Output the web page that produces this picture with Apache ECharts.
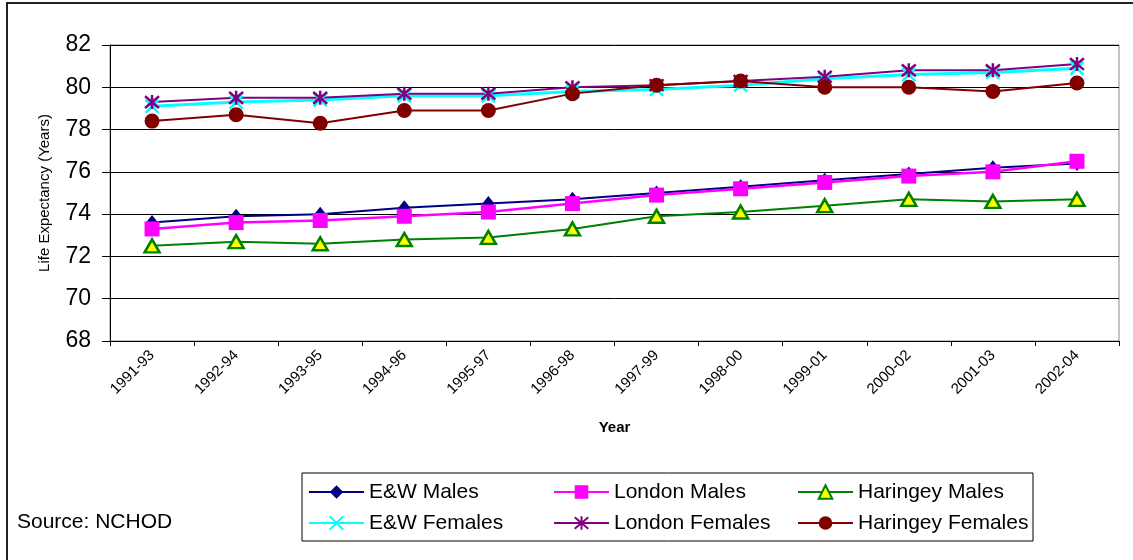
<!DOCTYPE html>
<html>
<head>
<meta charset="utf-8">
<script src="https://cdn.jsdelivr.net/npm/echarts@6/dist/echarts.min.js"></script>
<style>
  html, body { margin: 0; padding: 0; background: #fff; }
  #chart-container { width: 1133px; height: 560px; }
</style>
</head>
<body>
<div id="chart-container"></div>
<script>
const periods = ['1991-93', '1992-94', '1993-95', '1994-96', '1995-97', '1996-98',
                 '1997-99', '1998-00', '1999-01', '2000-02', '2001-03', '2002-04'];

const ewMales         = [73.6, 73.9, 74.0, 74.3, 74.5, 74.7, 75.0, 75.3, 75.6, 75.9, 76.2, 76.4];
const londonMales     = [73.3, 73.6, 73.7, 73.9, 74.1, 74.5, 74.9, 75.2, 75.5, 75.8, 76.0, 76.5];
const haringeyMales   = [72.5, 72.7, 72.6, 72.8, 72.9, 73.3, 73.9, 74.1, 74.4, 74.7, 74.6, 74.7];
const ewFemales       = [79.1, 79.3, 79.4, 79.6, 79.6, 79.8, 79.9, 80.1, 80.4, 80.6, 80.7, 80.9];
const londonFemales   = [79.3, 79.5, 79.5, 79.7, 79.7, 80.0, 80.1, 80.3, 80.5, 80.8, 80.8, 81.1];
const haringeyFemales = [78.4, 78.7, 78.3, 78.9, 78.9, 79.7, 80.1, 80.3, 80.0, 80.0, 79.8, 80.2];

const font = "'Liberation Sans', Arial, sans-serif";

// stroke-only markers (Excel style x and asterisk)
const crossPath = 'path://M0,0L10,10M10,0L0,10';
const starPath = 'path://M0,0L10,10M10,0L0,10M5,-1L5,11';

function lineSeries(name, data, color, symbol, size, extra) {
    const s = {
        name: name,
        type: 'line',
        data: data,
        symbol: symbol,
        symbolSize: size,
        lineStyle: { color: color, width: 2 },
        itemStyle: { color: color },
        emphasis: { disabled: true },
        animation: false
    };
    return Object.assign(s, extra || {});
}

const chart = echarts.init(document.getElementById('chart-container'));

const legendBase = {
    orient: 'vertical',
    top: 480,
    padding: 0,
    itemWidth: 55,
    itemHeight: 17,
    itemGap: 7,
    selectedMode: false,
    textStyle: { fontFamily: font, fontSize: 21, color: '#000', lineHeight: 24 }
};

const option = {
    backgroundColor: '#fff',
    textStyle: { fontFamily: font },
    grid: {
        left: 110, right: 14, top: 45, bottom: 219,
        containLabel: false,
        outerBoundsMode: 'none',
        show: true,
        borderColor: '#888',
        borderWidth: 1
    },
    legend: [
        Object.assign({ left: 308, data: ['E&W Males', 'E&W Females'] }, legendBase),
        Object.assign({ left: 553, data: ['London Males', 'London Females'] }, legendBase),
        Object.assign({ left: 797, data: ['Haringey Males', 'Haringey Females'] }, legendBase)
    ],
    xAxis: {
        type: 'category',
        data: periods,
        boundaryGap: true,
        name: 'Year',
        nameLocation: 'middle',
        nameGap: 79,
        nameTextStyle: { fontFamily: font, fontSize: 15, fontWeight: 'bold', color: '#000' },
        axisLine: { show: true, lineStyle: { color: '#000', width: 1 } },
        axisTick: { show: true, inside: false, length: 5, lineStyle: { color: '#000' } },
        axisLabel: { rotate: 45, margin: 12, fontFamily: font, fontSize: 15, color: '#000' },
        splitLine: { show: false }
    },
    yAxis: {
        type: 'value',
        min: 68,
        max: 82,
        interval: 2,
        name: 'Life Expectancy (Years)',
        nameLocation: 'middle',
        nameRotate: 90,
        nameGap: 58,
        nameTextStyle: { fontFamily: font, fontSize: 15, color: '#000' },
        axisLine: { show: true, lineStyle: { color: '#000', width: 1 } },
        axisTick: { show: true, inside: false, length: 8, lineStyle: { color: '#000' } },
        axisLabel: { margin: 19, fontFamily: font, fontSize: 23, color: '#000' },
        splitLine: { show: true, lineStyle: { color: '#000', width: 1 } }
    },
    series: [
        lineSeries('E&W Males', ewMales, '#000080', 'diamond', [12, 15]),
        lineSeries('London Males', londonMales, '#FF00FF', 'rect', 15, {
            lineStyle: { color: '#FF00FF', width: 2.5 }
        }),
        lineSeries('Haringey Males', haringeyMales, '#008000', 'triangle', [15, 13], {
            itemStyle: { color: '#FFFF00', borderColor: '#008000', borderWidth: 2.5 }
        }),
        lineSeries('E&W Females', ewFemales, '#00FFFF', crossPath, 13, {
            lineStyle: { color: '#00FFFF', width: 3 },
            itemStyle: { color: '#00FFFF', borderColor: '#00FFFF', borderWidth: 2.5 }
        }),
        lineSeries('London Females', londonFemales, '#800080', starPath, 14, {
            itemStyle: { color: '#800080', borderColor: '#800080', borderWidth: 2.5 }
        }),
        lineSeries('Haringey Females', haringeyFemales, '#800000', 'circle', 15)
    ],
    graphic: [
        {
            type: 'rect',
            shape: { x: 7, y: 3, width: 1200, height: 700 },
            style: { fill: null, stroke: '#222', lineWidth: 2 },
            silent: true,
            z: -10
        },
        {
            type: 'rect',
            shape: { x: 302, y: 473, width: 731, height: 68 },
            style: { fill: null, stroke: '#000', lineWidth: 1 },
            silent: true
        },
        {
            type: 'text',
            left: 17,
            top: 512,
            style: { text: 'Source: NCHOD', fontFamily: font, fontSize: 21, fill: '#000' },
            silent: true
        }
    ]
};

chart.setOption(option);
</script>
</body>
</html>
